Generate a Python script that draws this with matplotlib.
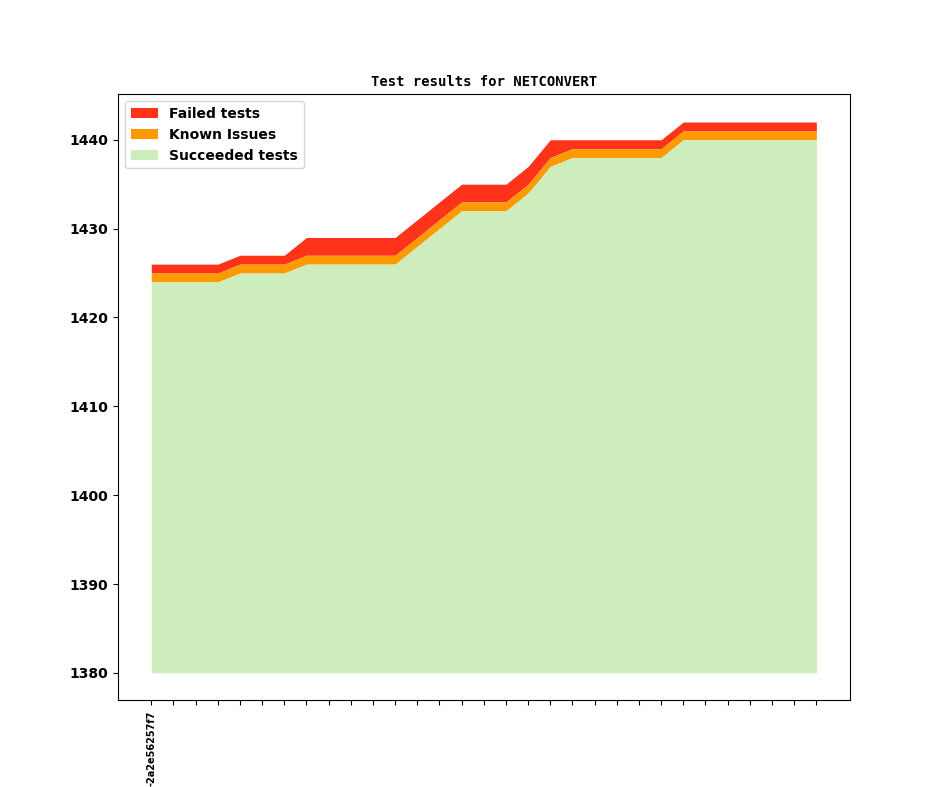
import matplotlib
matplotlib.use("Agg")
import matplotlib.pyplot as plt
import numpy as np

base = 1380
succeeded = [1424, 1424, 1424, 1424, 1425, 1425, 1425, 1426, 1426, 1426, 1426,
             1426, 1428, 1430, 1432, 1432, 1432, 1434, 1437, 1438, 1438, 1438,
             1438, 1438, 1440, 1440, 1440, 1440, 1440, 1440, 1440]
known = [1] * 31
failed = [1, 1, 1, 1, 1, 1, 1, 2, 2, 2, 2, 2, 2, 2, 2, 2, 2, 2, 2, 1, 1, 1,
          1, 1, 1, 1, 1, 1, 1, 1, 1]
revisions = ["-2a2e56257f7"] + [""] * 30

x = np.arange(len(succeeded))
s = np.array(succeeded)
k = s + np.array(known)
f = k + np.array(failed)

plt.rcParams['font.weight'] = 'bold'
fig = plt.figure(figsize=(9.44, 7.87), dpi=100)
ax = fig.add_subplot(1, 1, 1)

ax.fill_between(x, k, f, color='#ff331a', linewidth=0, label='Failed tests')
ax.fill_between(x, s, k, color='#ff9900', linewidth=0, label='Known Issues')
ax.fill_between(x, base, s, color='#cdedbd', linewidth=0, label='Succeeded tests')

ax.set_title('Test results for NETCONVERT', fontsize=10, family='DejaVu Sans Mono',
             fontweight='bold')
ax.set_xticks(x)
ax.set_xticklabels(revisions, rotation=90, fontsize=7, fontweight='bold')
for t in ax.get_yticklabels():
    t.set_fontweight('bold')
ax.legend(loc='upper left', prop={'weight': 'bold'})

fig.savefig('out.png', dpi=100)
